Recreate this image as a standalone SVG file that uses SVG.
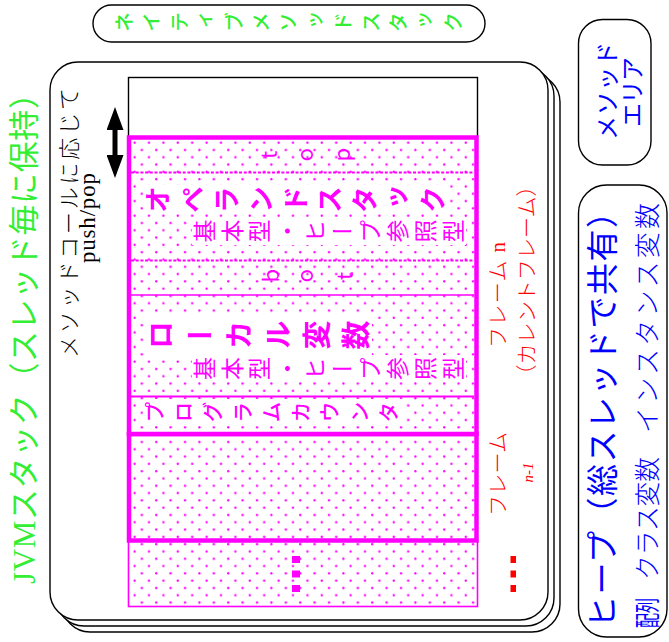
<svg xmlns="http://www.w3.org/2000/svg" width="669" height="642" viewBox="0 0 669 642">
<defs>
<style>
.jp{font-family:"Noto Sans CJK JP",sans-serif}
.mx{font-family:"Liberation Serif","Noto Sans CJK JP",serif}
.vt{writing-mode:vertical-rl}
.box{fill:#fff;stroke:#000;stroke-width:1.4}
.mg{fill:#f0f}
.rd{fill:#f00}
.bl{fill:#00f}
.gr{fill:#33ee33}
</style>
<pattern id="dots" width="14.4" height="14.6" patternUnits="userSpaceOnUse" x="131" y="139">
<rect width="14.4" height="14.6" fill="#fff"/>
<circle cx="3.6" cy="3.65" r="1.15" fill="#f0f"/>
<circle cx="10.8" cy="10.95" r="1.15" fill="#f0f"/>
</pattern>
<marker id="ah" viewBox="0 0 23 17" refX="0" refY="8.5" markerWidth="23" markerHeight="17" markerUnits="userSpaceOnUse" orient="auto-start-reverse">
<path d="M0,0 L23,8.5 L0,17 z" fill="#000"/>
</marker>
</defs>

<g id="native-method-stack">
<rect class="box" x="93" y="5" width="392" height="37" rx="18.5"/>
<text class="jp gr" transform="translate(0,22) rotate(-90)" x="0" y="114.5" style="writing-mode:vertical-rl" font-size="20" font-weight="500" letter-spacing="7.4">ネイティブメソッドスタック</text>
</g>

<g id="jvm-stack">
<rect class="box" x="62" y="74" width="498" height="558" rx="28"/>
<rect class="box" x="56" y="68" width="498" height="558" rx="28"/>
<rect class="box" x="50" y="62" width="498" height="558" rx="28"/>
<text class="mx gr" transform="translate(35,584) rotate(-90)" font-size="31" textLength="506" lengthAdjust="spacing">JVMスタック（スレッド毎に保持）</text>
<rect x="128.5" y="77.5" width="349" height="60" fill="#fff" stroke="#000" stroke-width="1.4"/>
</g>

<g id="push-pop-label">
<text class="jp" transform="translate(76.5,358) rotate(-90)" font-size="22" font-weight="300" textLength="270" lengthAdjust="spacing">メソッドコールに応じて</text>
<text transform="translate(95,263) rotate(-90)" font-family="Liberation Serif, serif" font-size="23" textLength="90" lengthAdjust="spacing">push/pop</text>
</g>

<g id="connectors">
<line x1="115" y1="130" x2="115" y2="155" stroke="#000" stroke-width="5" marker-start="url(#ah)" marker-end="url(#ah)"/>
</g>

<g id="frame-more">
<rect x="128.5" y="540" width="349" height="66.5" fill="url(#dots)" stroke="#f0f" stroke-width="1.6"/>
<rect class="mg" x="292" y="556" width="8" height="7"/>
<rect class="mg" x="292" y="570.5" width="8" height="7"/>
<rect class="mg" x="292" y="585" width="8" height="7"/>
<rect class="rd" x="510.5" y="556" width="5.5" height="7"/>
<rect class="rd" x="510.5" y="570.5" width="5.5" height="7"/>
<rect class="rd" x="510.5" y="585" width="5.5" height="7"/>
</g>

<g id="frame-n-1">
<rect x="129" y="434" width="347.5" height="106.5" fill="url(#dots)" stroke="#f0f" stroke-width="4.5"/>
<text class="mx rd" transform="translate(505,516) rotate(-90)" font-size="21" font-weight="300" textLength="84" lengthAdjust="spacing">フレーム</text>
<text class="rd" transform="translate(533,472.5) rotate(-90)" font-family="Liberation Serif, serif" font-style="italic" font-size="15" text-anchor="middle">n-1</text>
</g>

<g id="frame-n">
<rect x="129" y="137.5" width="347.5" height="296.5" fill="url(#dots)"/>
<rect x="143" y="185" width="305" height="29" fill="#fff"/>
<rect x="192" y="218" width="274" height="27" fill="#fff"/>
<rect x="145" y="313" width="227" height="44" fill="#fff"/>
<rect x="192" y="355" width="274" height="27" fill="#fff"/>
<rect x="143" y="399" width="260" height="26" fill="#fff"/>
<line x1="131" y1="172.5" x2="474" y2="172.5" stroke="#f0f" stroke-width="2" stroke-dasharray="3 1.7"/>
<line x1="131" y1="260.5" x2="474" y2="260.5" stroke="#f0f" stroke-width="2" stroke-dasharray="3 1.7"/>
<line x1="131" y1="295" x2="474" y2="295" stroke="#f0f" stroke-width="1.5"/>
<line x1="131" y1="396.5" x2="474" y2="396.5" stroke="#f0f" stroke-width="2.2"/>
<text class="jp mg" x="277 313 350" y="158.9 161.6 161.6" rotate="-90" font-size="22">top</text>
<text class="jp mg" transform="translate(0,199.5) rotate(-90)" x="0" y="144.5" style="writing-mode:vertical-rl" font-size="27" font-weight="700" letter-spacing="7.4">オペランドスタック</text>
<text class="jp mg" transform="translate(0,231) rotate(-90)" x="0" y="193" style="writing-mode:vertical-rl" font-size="23" letter-spacing="4.6">基本型・ヒープ参照型</text>
<text class="jp mg" x="279.5 313 353" y="282.6 282.6 279.9" rotate="-90" font-size="22">bot</text>
<text class="jp mg" transform="translate(0,335) rotate(-90)" x="0" y="146" style="writing-mode:vertical-rl" font-size="29" font-weight="700" letter-spacing="10">ローカル変数</text>
<text class="jp mg" transform="translate(0,368.5) rotate(-90)" x="0" y="193" style="writing-mode:vertical-rl" font-size="23" letter-spacing="4.6">基本型・ヒープ参照型</text>
<text class="jp mg" transform="translate(0,412) rotate(-90)" x="0" y="143.5" style="writing-mode:vertical-rl" font-size="21" font-weight="500" letter-spacing="8.25">プログラムカウンタ</text>
<rect x="129" y="137.5" width="347.5" height="296.5" fill="none" stroke="#f0f" stroke-width="4.5"/>
<text class="mx rd" transform="translate(505,348) rotate(-90)" font-size="21" font-weight="300" textLength="106" lengthAdjust="spacing">フレーム n</text>
<text class="jp rd" transform="translate(534,385.5) rotate(-90)" font-size="21" font-weight="300" textLength="210" lengthAdjust="spacing">（カレントフレーム）</text>
</g>

<g id="method-area">
<rect class="box" x="578.5" y="19.5" width="72.5" height="145.5" rx="24"/>
<text class="jp bl" transform="translate(616,140) rotate(-90)" font-size="24" textLength="98" lengthAdjust="spacing">メソッド</text>
<text class="jp bl" transform="translate(641,127) rotate(-90)" font-size="24" textLength="70" lengthAdjust="spacing">エリア</text>
</g>

<g id="heap">
<rect class="box" x="578.5" y="185" width="88.5" height="452" rx="28"/>
<text class="jp bl" transform="translate(614,628) rotate(-90)" font-size="32" textLength="432" lengthAdjust="spacing">ヒープ（総スレッドで共有）</text>
<text class="jp bl" transform="translate(657,628) rotate(-90)" font-size="26" textLength="30" lengthAdjust="spacingAndGlyphs">配列</text>
<text class="jp bl" transform="translate(657,580) rotate(-90)" font-size="26" font-weight="300" textLength="123" lengthAdjust="spacingAndGlyphs">クラス変数</text>
<text class="jp bl" transform="translate(657,433) rotate(-90)" font-size="26" font-weight="300" textLength="230" lengthAdjust="spacing">インスタンス変数</text>
</g>
</svg>
